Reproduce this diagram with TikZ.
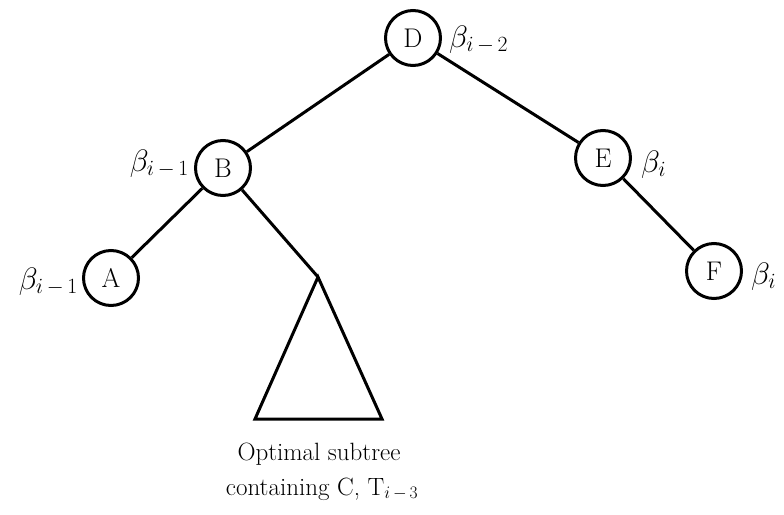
\RequirePackage{fix-cm}
\documentclass[tikz,border=0pt]{standalone}
\usepackage{fontspec}
\begin{document}
\begin{tikzpicture}[x=1pt,y=-1pt,
  tnode/.style={circle,draw,line width=3pt,minimum size=55pt,inner sep=0pt,font=\fontsize{27}{32}\selectfont},
  edge/.style={line width=3pt},
  lbl/.style={font=\fontsize{31}{36}\selectfont,inner sep=0pt},
  captext/.style={font=\fontsize{25}{30}\selectfont\addfontfeatures{LetterSpace=12},inner sep=0pt,anchor=base}]
\useasboundingbox (0,0) rectangle (784,514);
\node[tnode] (D) at (413,38) {D};
\node[tnode] (B) at (223,168) {B};
\node[tnode] (E) at (603,158) {E};
\node[tnode] (A) at (111,278) {A};
\node[tnode] (F) at (714,271) {F};
\coordinate (T) at (318,277);
\coordinate (TL) at (255,419);
\coordinate (TR) at (382,419);
\draw[edge] (D) -- (B);
\draw[edge] (D) -- (E);
\draw[edge] (B) -- (A);
\draw[edge] (B) -- (T);
\draw[edge] (E) -- (F);
\draw[edge,line join=miter] (T) -- (TL) -- (TR) -- cycle;
\node[lbl,anchor=base west] (lD) at (449,47) {$\beta_{i\,-\,2}$};
\node[lbl,anchor=base east] (lB) at (189,171) {$\beta_{i\,-\,1}$};
\node[lbl,anchor=base west] (lE) at (641,172) {$\beta_{i}$};
\node[lbl,anchor=base east] (lA) at (78,289) {$\beta_{i\,-\,1}$};
\node[lbl,anchor=base west] (lF) at (751,284) {$\beta_{i}$};
\node[captext] (cap1) at (319,460) {Optimal subtree};
\node[captext] (cap2) at (322,495) {containing C, T$_{i\,-\,3}$};
\end{tikzpicture}
\end{document}
